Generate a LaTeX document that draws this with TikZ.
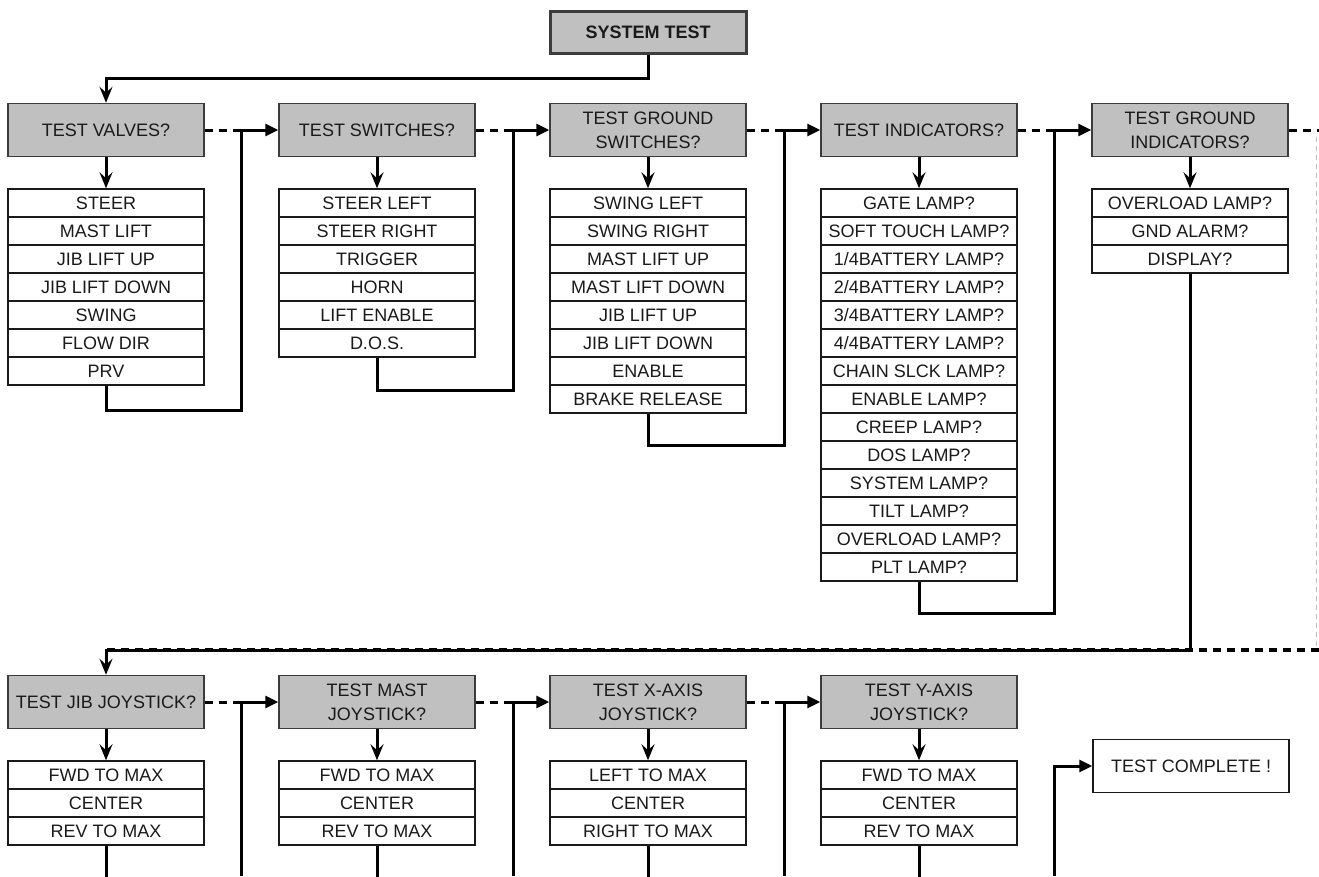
\documentclass[tikz,border=0pt]{standalone}
\usepackage{fontspec}
\setmainfont{Liberation Sans}
\usetikzlibrary{arrows.meta}
\definecolor{boxgray}{HTML}{C0C0C0}
\definecolor{ink}{HTML}{1A1A1A}
\tikzset{
	head/.style={draw=ink!85,line width=1.5pt,fill=boxgray,minimum width=196pt,minimum height=53pt,inner sep=0pt,align=center,text=ink,font=\fontsize{18}{24}\selectfont},
	item/.style={draw=ink,line width=1.5pt,fill=white,minimum width=196pt,minimum height=28pt,inner sep=0pt,text=ink,font=\fontsize{18}{24}\selectfont},
	flow/.style={line width=3pt,-{Triangle[length=13pt,width=12pt]}},
	drop/.style={line width=3pt,-{Stealth[length=16pt,width=13pt,inset=6pt]}},
	wire/.style={line width=3pt},
	skip/.style={line width=3pt,dash pattern=on 8pt off 6pt},
}
\begin{document}
\begin{tikzpicture}[x=1pt,y=-1pt]
				\useasboundingbox[fill=white] (0,0) rectangle (1319,876);
				\node[head,line width=3pt,font=\fontsize{18}{24}\selectfont\bfseries,minimum height=42pt] (systest) at (648,32) {SYSTEM TEST};
				\node[head] (valves) at (106,130) {TEST VALVES?};
				\node[head] (switches) at (377,130) {TEST SWITCHES?};
				\node[head] (gswitches) at (648,130) {TEST GROUND\\SWITCHES?};
				\node[head] (indic) at (919,130) {TEST INDICATORS?};
				\node[head] (gindic) at (1190,130) {TEST GROUND\\INDICATORS?};
				\node[head] (jib) at (106,702) {TEST JIB JOYSTICK?};
				\node[head] (mast) at (377,702) {TEST MAST\\JOYSTICK?};
				\node[head] (xaxis) at (648,702) {TEST X-AXIS\\JOYSTICK?};
				\node[head] (yaxis) at (919,702) {TEST Y-AXIS\\JOYSTICK?};
				\node[item,minimum height=53pt] (done) at (1191,766) {TEST COMPLETE !};
				\foreach \t [count=\i] in {STEER,MAST LIFT,JIB LIFT UP,JIB LIFT DOWN,SWING,FLOW DIR,PRV}
					\node[item] (va\i) at (106,{175+28*\i}) {\t};
				\foreach \t [count=\i] in {STEER LEFT,STEER RIGHT,TRIGGER,HORN,LIFT ENABLE,D.O.S.}
					\node[item] (sw\i) at (377,{175+28*\i}) {\t};
				\foreach \t [count=\i] in {SWING LEFT,SWING RIGHT,MAST LIFT UP,MAST LIFT DOWN,JIB LIFT UP,JIB LIFT DOWN,ENABLE,BRAKE RELEASE}
					\node[item] (gs\i) at (648,{175+28*\i}) {\t};
				\foreach \t [count=\i] in {GATE LAMP?,SOFT TOUCH LAMP?,1/4BATTERY LAMP?,2/4BATTERY LAMP?,3/4BATTERY LAMP?,4/4BATTERY LAMP?,CHAIN SLCK LAMP?,ENABLE LAMP?,CREEP LAMP?,DOS LAMP?,SYSTEM LAMP?,TILT LAMP?,OVERLOAD LAMP?,PLT LAMP?}
					\node[item] (in\i) at (919,{175+28*\i}) {\t};
				\foreach \t [count=\i] in {OVERLOAD LAMP?,GND ALARM?,DISPLAY?}
					\node[item] (gi\i) at (1190,{175+28*\i}) {\t};
				\foreach \t [count=\i] in {FWD TO MAX,CENTER,REV TO MAX}
					\node[item] (jb\i) at (106,{747+28*\i}) {\t};
				\foreach \t [count=\i] in {FWD TO MAX,CENTER,REV TO MAX}
					\node[item] (ms\i) at (377,{747+28*\i}) {\t};
				\foreach \t [count=\i] in {LEFT TO MAX,CENTER,RIGHT TO MAX}
					\node[item] (xa\i) at (648,{747+28*\i}) {\t};
				\foreach \t [count=\i] in {FWD TO MAX,CENTER,REV TO MAX}
					\node[item] (ya\i) at (919,{747+28*\i}) {\t};
				\coordinate (top) at (106,78);
				\coordinate (j1) at (241,130);
				\coordinate (j2) at (513,130);
				\coordinate (j3) at (784,130);
				\coordinate (j4) at (1054,130);
				\coordinate (edgeT) at (1319,130);
				\coordinate (edgeB) at (1319,650);
				\coordinate (wrap) at (106,650);
				\coordinate (b1) at (241,876);
				\coordinate (b2) at (513,876);
				\coordinate (b3) at (784,876);
				\coordinate (b4) at (1054,876);
				\draw[drop] (systest.south) |- (top) -- (valves.north);
				\draw[drop] (valves.south) -- (va1.north);
				\draw[drop] (switches.south) -- (sw1.north);
				\draw[drop] (gswitches.south) -- (gs1.north);
				\draw[drop] (indic.south) -- (in1.north);
				\draw[drop] (gindic.south) -- (gi1.north);
				\draw[drop] (jib.south) -- (jb1.north);
				\draw[drop] (mast.south) -- (ms1.north);
				\draw[drop] (xaxis.south) -- (xa1.north);
				\draw[drop] (yaxis.south) -- (ya1.north);
				\draw[skip] (valves.east) -- (j1);
				\draw[skip] (switches.east) -- (j2);
				\draw[skip] (gswitches.east) -- (j3);
				\draw[skip] (indic.east) -- (j4);
				\draw[skip] (gindic.east) -- (edgeT);
				\draw[flow] (va7.south) -- ++(0,25) -| (j1) -- (switches.west);
				\draw[flow] (sw6.south) -- ++(0,33) -| (j2) -- (gswitches.west);
				\draw[flow] (gs8.south) -- ++(0,32) -| (j3) -- (indic.west);
				\draw[flow] (in14.south) -- ++(0,32) -| (j4) -- (gindic.west);
				\draw[black!25,line width=1pt,dash pattern=on 5pt off 4pt] (1316,137) -- (1316,646);
				\draw[drop] (gi3.south) |- (wrap) -- (jib.north);
				\draw[skip,line width=3.6pt] (edgeB) -- (wrap);
				\draw[skip] (jib.east) -- (b1 |- jib.east);
				\draw[skip] (mast.east) -- (b2 |- mast.east);
				\draw[skip] (xaxis.east) -- (b3 |- xaxis.east);
				\draw[flow] (b1) |- (mast.west);
				\draw[flow] (b2) |- (xaxis.west);
				\draw[flow] (b3) |- (yaxis.west);
				\draw[flow] (b4) |- (done.west);
				\draw[wire] (jb3.south) -- ++(0,31);
				\draw[wire] (ms3.south) -- ++(0,31);
				\draw[wire] (xa3.south) -- ++(0,31);
				\draw[wire] (ya3.south) -- ++(0,31);
			\end{tikzpicture}
\end{document}
